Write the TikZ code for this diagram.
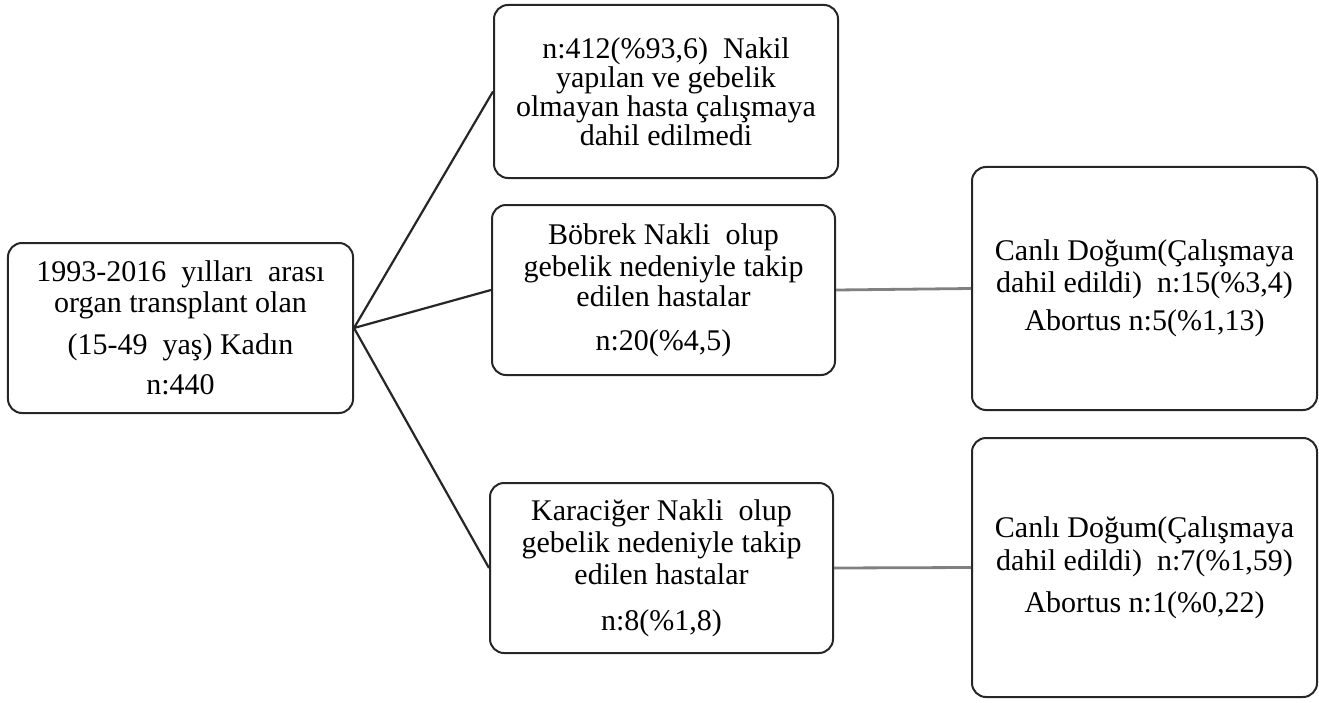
\documentclass[tikz,border=0pt]{standalone}
\usepackage{fontspec}
\setmainfont{Liberation Serif}
\begin{document}
\begin{tikzpicture}[x=1bp,y=-1bp,
  box/.style={draw=black!85, line width=2bp, rounded corners=14bp, inner sep=0pt,
    align=center, font=\fontsize{30bp}{30bp}\selectfont},
  link/.style={draw=black!85, line width=2.2bp},
  graylink/.style={draw=black!50, line width=2.8bp}]
\useasboundingbox (0,0) rectangle (1319,702);
\node[box, minimum width=345bp, minimum height=170bp] (A) at (180.5,328)
  {1993-2016\enspace yılları\enspace arası\\[1bp] organ transplant olan\\[12bp]
   (15-49\enspace yaş) Kadın\\[10bp] n:440};
\node[box, minimum width=344bp, minimum height=173bp] (B) at (666,91.5)
  {n:412(\%93,6)\enspace Nakil\\[-1bp] yapılan ve gebelik\\[-1bp] olmayan hasta çalışmaya\\[-1bp] dahil edilmedi};
\node[box, minimum width=343bp, minimum height=170bp] (C) at (663.5,290)
  {Böbrek Nakli\enspace olup\\[2bp] gebelik nedeniyle takip\\ edilen hastalar\\[14bp] n:20(\%4,5)};
\node[box, minimum width=343bp, minimum height=170bp] (D) at (661.5,568)
  {Karaciğer Nakli\enspace olup\\[2bp] gebelik nedeniyle takip\\[2bp] edilen hastalar\\[16bp] n:8(\%1,8)};
\node[box, minimum width=345bp, minimum height=243bp] (E) at (1144.5,288.5)
  {Canlı Doğum(Çalışmaya\\[2bp] dahil edildi)\enspace n:15(\%3,4)\\[8bp] Abortus n:5(\%1,13)};
\node[box, minimum width=345bp, minimum height=259bp] (F) at (1144.5,567.5)
  {Canlı Doğum(Çalışmaya\\[3bp] dahil edildi)\enspace n:7(\%1,59)\\[12bp] Abortus n:1(\%0,22)};
\draw[link] (A.east) -- (B.west);
\draw[link] (A.east) -- (C.west);
\draw[link] (A.east) -- (D.west);
\draw[graylink] (C.east) -- (E.west);
\draw[graylink] (D.east) -- (F.west);
\end{tikzpicture}
\end{document}
